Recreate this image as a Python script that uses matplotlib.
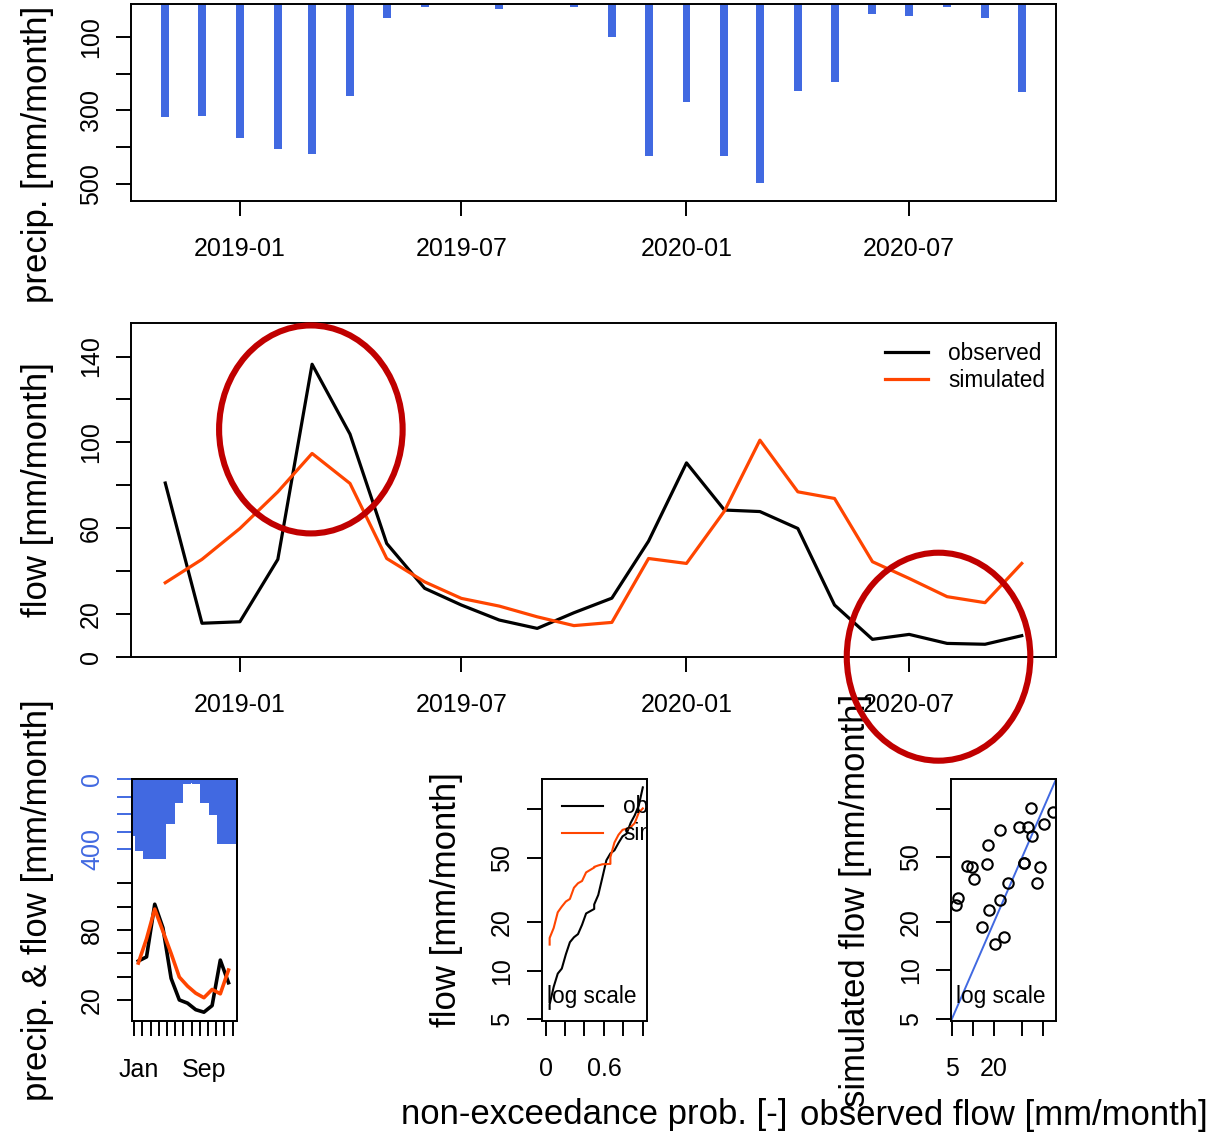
import numpy as np
import pandas as pd
import matplotlib
matplotlib.use("Agg")
import matplotlib.pyplot as plt
import matplotlib.dates as mdates
from matplotlib.patches import Ellipse
from matplotlib.ticker import NullLocator

plt.rcParams["font.family"] = ["Liberation Sans", "DejaVu Sans"]

# monthly totals, Nov 2018 - Oct 2020 [mm/month]
months = pd.date_range("2018-11-01", "2020-10-01", freq="MS")
precip = [317, 316, 374, 404, 418, 261, 50, 20, 8, 24, 8, 20,
          100, 423, 277, 424, 497, 248, 223, 39, 43, 20, 50, 250]
q_obs = [81.0, 15.6, 16.3, 45.4, 136.4, 103.8, 52.8, 31.9, 24.1, 17.1, 13.2, 20.5,
         27.3, 53.9, 90.4, 68.4, 67.7, 59.8, 24.1, 8.1, 10.4, 6.2, 5.8, 9.8]
q_sim = [34.5, 45.4, 59.8, 76.9, 94.8, 80.8, 45.8, 34.9, 27.2, 23.6, 18.6, 14.5,
         16.0, 45.8, 43.5, 67.9, 101.0, 76.9, 73.8, 44.3, 36.5, 28.0, 25.2, 43.5]

date_ticks = pd.to_datetime(["2019-01-01", "2019-07-01", "2020-01-01", "2020-07-01"])
month_labels = {1: "Jan", 9: "Sep"}

# periods circled on the hydrograph: (centre date, centre flow, width days, height)
highlights = [("2019-02-28", 106, 150, 97), ("2020-07-25", 0, 150, 97)]

BLUE = "#4169E1"
ORANGE = "#FF4500"
DARKRED = "#C00000"
TICK_FS = 18
LAB_FS = 25
LEG_FS = 16.3

W, H = 1231, 1134
fig = plt.figure(figsize=(W / 100, H / 100), dpi=100)


def box(l, t, r, b):
    return [l / W, 1 - b / H, (r - l) / W, (b - t) / H]


def style(ax):
    for s in ax.spines.values():
        s.set_linewidth(1.4)
    ax.tick_params(direction="out", length=11, width=1.4, labelsize=TICK_FS)
    ax.tick_params(axis="x", pad=15)
    ax.tick_params(axis="y", pad=9)


def yticks(ax, ticks, shown, **kw):
    labels = [str(t) if t in shown else "" for t in ticks]
    ax.set_yticks(ticks, labels, rotation=90, va="center", **kw)


def ylab(text, x, y):
    fig.text(x / W, 1 - y / H, text, rotation=90, ha="center", va="center", fontsize=LAB_FS)


def xlab(ax, text):
    ax.set_xlabel(text, fontsize=LAB_FS, va="center")
    ax.xaxis.set_label_coords(0.5, -0.39)


df = pd.DataFrame({"P": precip, "Qobs": q_obs, "Qsim": q_sim}, index=months)
pad = 0.04 * (months[-1] - months[0])
xlim = (months[0] - pad, months[-1] + pad)

# --- precipitation bars
ax_p = fig.add_axes(box(131, 4, 1056, 201.3))
ax_p.bar(df.index, df.P, width=6.5, color=BLUE)
ax_p.set_ylim(547, 11)
ax_p.set_xlim(xlim)
style(ax_p)
yticks(ax_p, [100, 200, 300, 400, 500], {100, 300, 500})
ax_p.set_xticks(date_ticks)
ax_p.xaxis.set_major_formatter(mdates.DateFormatter("%Y-%m"))
ylab("precip. [mm/month]", 37.5, 154.5)

# --- hydrograph
ax_q = fig.add_axes(box(131, 323.3, 1056, 656.7))
ax_q.plot(df.index, df.Qobs, color="black", lw=2.3, label="observed")
ax_q.plot(df.index, df.Qsim, color=ORANGE, lw=2.3, label="simulated")
ax_q.set_ylim(0, 155.5)
ax_q.set_xlim(xlim)
style(ax_q)
yticks(ax_q, list(range(0, 141, 20)), {0, 20, 60, 100, 140})
ax_q.set_xticks(date_ticks)
ax_q.xaxis.set_major_formatter(mdates.DateFormatter("%Y-%m"))
ax_q.legend(loc="upper right", bbox_to_anchor=(1.0065, 0.994), frameon=False,
            fontsize=LEG_FS, handlelength=1.9, handletextpad=0.9,
            labelspacing=0.15, borderaxespad=0.35)
ylab("flow [mm/month]", 37.5, 490)

for day, q, wd, ht in highlights:
    e = Ellipse((mdates.date2num(pd.Timestamp(day)), q), wd, ht, fill=False,
                ec=DARKRED, lw=4.4, transform=ax_q.transData, zorder=20)
    fig.add_artist(e)

# --- mean monthly regime
regime = df.groupby(df.index.month).mean()
mon = regime.index.values

ax_r = fig.add_axes(box(131.7, 779, 236.7, 1020.7))
ax_r.plot(mon, regime.Qobs, color="black", lw=2.6)
ax_r.plot(mon, regime.Qsim, color=ORANGE, lw=2.6)
ax_r.set_xlim(0.19, 13.0)
ax_r.set_ylim(2.2, 209.4)
style(ax_r)
yticks(ax_r, [20, 40, 60, 80, 100, 120], {20, 80})
ax_r.set_xticks(np.arange(0.5, 13), [""] * 13)
ax_r.set_xticks(list(month_labels), list(month_labels.values()), minor=True)
ax_r.tick_params(axis="x", which="minor", length=0, labelsize=TICK_FS, pad=26.5)

ax_rp = ax_r.twinx()
ax_rp.bar(mon, regime.P, width=2.86, color=BLUE)
ax_rp.set_ylim(1381, 0)
style(ax_rp)
ax_rp.yaxis.tick_left()
yticks(ax_rp, [0, 100, 200, 300, 400], {0, 400}, color=BLUE)
ax_rp.tick_params(axis="y", colors=BLUE)
ylab("precip. & flow [mm/month]", 37.5, 900)

# --- flow duration curves (log scale)
def fdc(values):
    v = np.sort(np.asarray(values))
    probs = np.arange(len(v) + 1) / len(v)
    qs = np.quantile(v, probs)
    freq = np.searchsorted(v, qs, side="right") / len(v)
    return freq, qs

ax_f = fig.add_axes(box(541.7, 779.3, 646.7, 1020.7))
ax_f.plot(*fdc(q_obs), color="black", lw=1.5)
ax_f.plot(*fdc(q_sim), color=ORANGE, lw=1.5)
ax_f.set_yscale("log")
ax_f.set_xlim(-0.04, 1.04)
ax_f.set_ylim(4.9, 153)
ax_f.yaxis.set_minor_locator(NullLocator())
style(ax_f)
yticks(ax_f, [5, 10, 20, 50, 100], {5, 10, 20, 50})
ax_f.set_xticks([0, 0.2, 0.4, 0.6, 0.8, 1.0], ["0", "", "", "0.6", "", ""])
for yy, col, name in [(0.889, "black", "observed"), (0.776, ORANGE, "simulated")]:
    ax_f.plot([0.19, 0.58], [yy, yy], color=col, lw=1.5, transform=ax_f.transAxes)
    ax_f.text(0.777, yy, name, transform=ax_f.transAxes, va="center",
              fontsize=LEG_FS, clip_on=True)
ax_f.text(0.476, 0.072, "log scale", transform=ax_f.transAxes, ha="center",
          fontsize=LEG_FS)
xlab(ax_f, "non-exceedance prob. [-]")
ylab("flow [mm/month]", 446.7, 900)

# --- simulated vs observed (log scale)
lims = (4.85, 152)
ax_s = fig.add_axes(box(951, 779.3, 1056, 1021))
ax_s.plot(lims, lims, color=BLUE, lw=1.4)
ax_s.plot(q_obs, q_sim, "o", mfc="none", mec="black", ms=7.5, mew=1.5)
ax_s.set_xscale("log")
ax_s.set_yscale("log")
ax_s.set_xlim(lims)
ax_s.set_ylim(lims)
ax_s.xaxis.set_minor_locator(NullLocator())
ax_s.yaxis.set_minor_locator(NullLocator())
style(ax_s)
yticks(ax_s, [5, 10, 20, 50, 100], {5, 10, 20, 50})
ax_s.set_xticks([5, 10, 20, 50, 100], ["5", "", "20", "", ""])
ax_s.text(0.474, 0.075, "log scale", transform=ax_s.transAxes, ha="center",
          fontsize=LEG_FS)
xlab(ax_s, "observed flow [mm/month]")
ylab("simulated flow [mm/month]", 856, 900)

fig.savefig("out.png", dpi=100)
